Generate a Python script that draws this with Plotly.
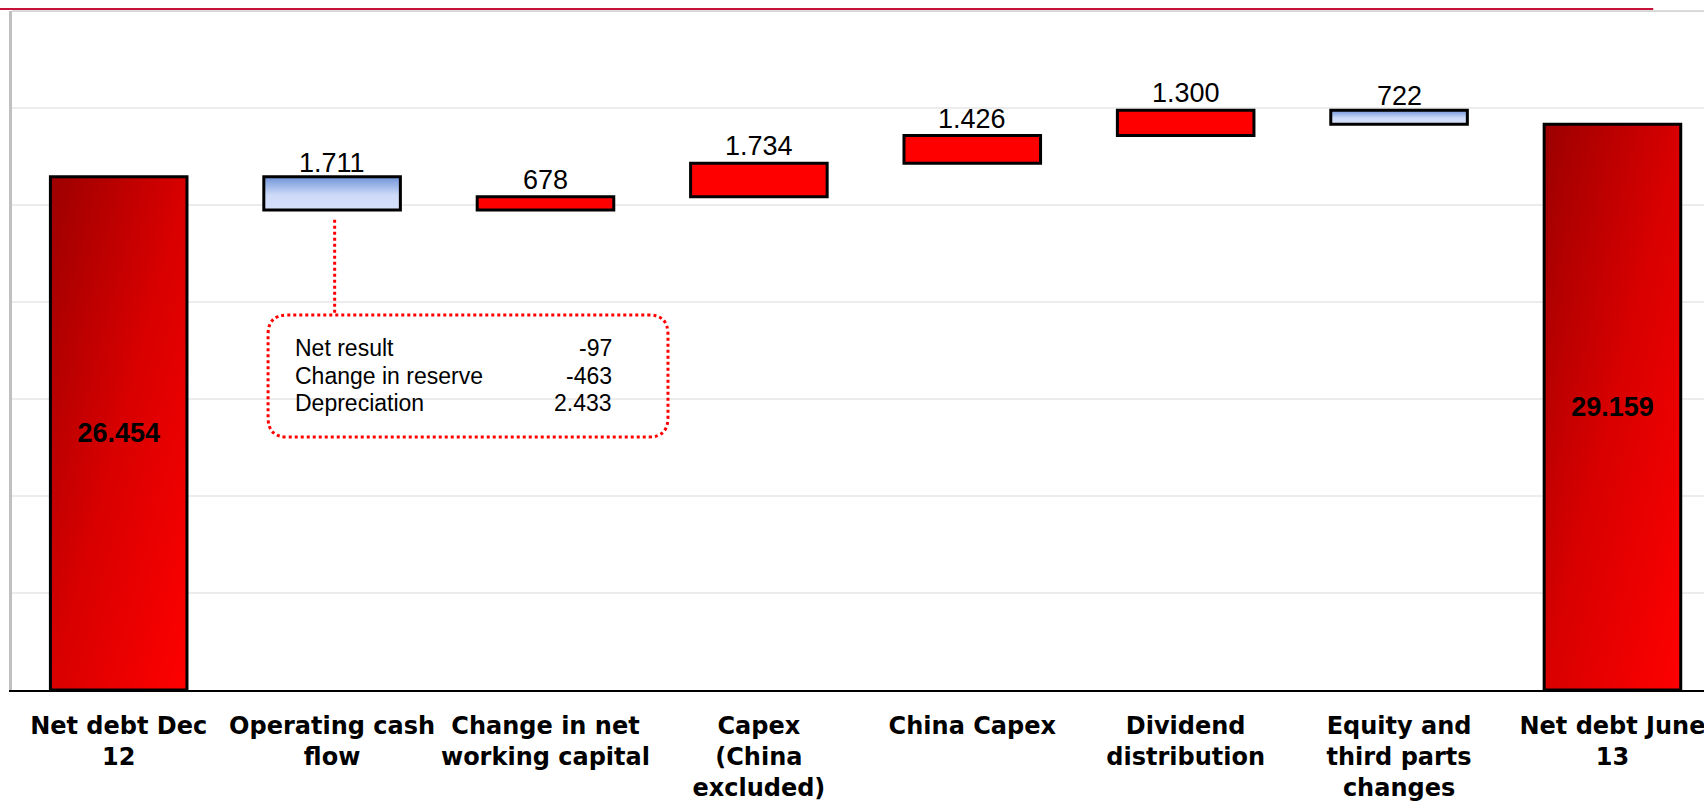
import base64
import plotly.graph_objects as go

# ---------------- data ----------------
categories = [
    "Net debt Dec<br>12",
    "Operating cash<br>flow",
    "Change in net<br>working capital",
    "Capex<br>(China<br>excluded)",
    "China Capex",
    "Dividend<br>distribution",
    "Equity and<br>third parts<br>changes",
    "Net debt June<br>13",
]
values = [26454, -1711, 678, 1734, 1426, 1300, -722, 29159]
measures = ["total", "relative", "relative", "relative", "relative", "relative", "relative", "total"]

breakdown_labels = ["Net result", "Change in reserve", "Depreciation"]
breakdown_values = [-97, -463, 2433]

y_ticks = [0, 5000, 10000, 15000, 20000, 25000, 30000, 35000]
y_range = [0, 35000]
x_range = [-0.5, 7.429]

FONT = "Liberation Sans, Arial"
TICK_FONT = "DejaVu Sans, Liberation Sans, Arial"


def fmt(n):
    return f"{n:,}".replace(",", ".")


# ---------------- waterfall geometry from data ----------------
bases, heights, kinds = [], [], []
running = 0
for v, m in zip(values, measures):
    if m == "total":
        bases.append(0)
        heights.append(v)
        running = v
        kinds.append("total")
    else:
        if v >= 0:
            bases.append(running)
            heights.append(v)
            kinds.append("up")
        else:
            bases.append(running + v)
            heights.append(-v)
            kinds.append("down")
        running += v

xs = list(range(len(categories)))
bar_w = 0.64

texts = ["<b>" + fmt(v) + "</b>" if k == "total" else "" for v, k in zip(values, kinds)]
positions = ["inside" if k == "total" else "none" for k in kinds]
fill_colors = ["#ff0000" if k == "up" else "rgba(0,0,0,0)" for k in kinds]


def svg_uri(svg):
    return "data:image/svg+xml;base64," + base64.b64encode(svg.encode()).decode()


red_grad = svg_uri(
    "<svg xmlns='http://www.w3.org/2000/svg' width='100' height='100' viewBox='0 0 100 100' "
    "preserveAspectRatio='none'><defs><linearGradient id='g' x1='0' y1='0' x2='1' y2='1'>"
    "<stop offset='0' stop-color='#9c0000'/><stop offset='0.5' stop-color='#d80000'/>"
    "<stop offset='1' stop-color='#ff0000'/></linearGradient></defs>"
    "<rect width='100' height='100' fill='url(#g)'/></svg>"
)
blue_grad = svg_uri(
    "<svg xmlns='http://www.w3.org/2000/svg' width='100' height='100' viewBox='0 0 100 100' "
    "preserveAspectRatio='none'><defs><linearGradient id='g' x1='0' y1='0' x2='0' y2='1'>"
    "<stop offset='0' stop-color='#6f94d8'/><stop offset='0.55' stop-color='#cddaf8'/>"
    "<stop offset='1' stop-color='#d6e1fc'/></linearGradient></defs>"
    "<rect width='100' height='100' fill='url(#g)'/></svg>"
)

images = []
for x, b, h, k in zip(xs, bases, heights, kinds):
    if k == "up":
        continue
    images.append(dict(
        source=red_grad if k == "total" else blue_grad,
        xref="x", yref="y", x=x - bar_w / 2, y=b + h,
        sizex=bar_w, sizey=h, sizing="stretch",
        xanchor="left", yanchor="top", layer="below",
    ))

fig = go.Figure()
fig.add_trace(go.Bar(
    x=xs, y=heights, base=bases, width=bar_w,
    marker=dict(color=fill_colors, line=dict(color="#000000", width=3)),
    text=texts, textposition=positions, insidetextanchor="middle",
    insidetextfont=dict(family=FONT, size=27, color="#000000"),
    constraintext="none", cliponaxis=False, showlegend=False, hoverinfo="skip",
))

# ---------------- gridlines (kept beneath the bar gradients) ----------------
shapes = []
for t in y_ticks[1:]:
    shapes.append(dict(type="line", xref="x", yref="y", x0=x_range[0], x1=x_range[1], y0=t, y1=t,
                       layer="below", line=dict(color="#d9d9d9", width=1)))

# ---------------- callout box for operating cash flow ----------------
ocf = 1
box_x0, box_x1 = ocf - 0.30, ocf + 1.574
box_y0, box_y1 = 13040, 19330
rx, ry = 0.09, 1000
box_path = (
    f"M {box_x0 + rx},{box_y1} L {box_x1 - rx},{box_y1} Q {box_x1},{box_y1} {box_x1},{box_y1 - ry} "
    f"L {box_x1},{box_y0 + ry} Q {box_x1},{box_y0} {box_x1 - rx},{box_y0} "
    f"L {box_x0 + rx},{box_y0} Q {box_x0},{box_y0} {box_x0},{box_y0 + ry} "
    f"L {box_x0},{box_y1 - ry} Q {box_x0},{box_y1} {box_x0 + rx},{box_y1} Z"
)
shapes += [
    dict(type="path", xref="x", yref="y", path=box_path,
         line=dict(color="#ff0000", width=3, dash="dot"), fillcolor="rgba(0,0,0,0)"),
    dict(type="line", xref="x", yref="y", x0=ocf + 0.012, x1=ocf + 0.012,
         y0=bases[ocf] - 500, y1=box_y1,
         line=dict(color="#ff0000", width=3, dash="dot")),
    # decorative top rule
    dict(type="line", xref="paper", yref="paper", x0=-0.01, x1=0.97, y0=1.003, y1=1.003,
         line=dict(color="#c8123a", width=2)),
    dict(type="line", xref="paper", yref="paper", x0=0, x1=1, y0=1, y1=1,
         line=dict(color="#d0d0d0", width=1.5)),
]

annotations = []
# value labels on the step bars
for x, b, h, v, k in zip(xs, bases, heights, values, kinds):
    if k == "total":
        continue
    annotations.append(dict(
        xref="x", yref="y", x=x, y=b + h, xanchor="center", yanchor="bottom",
        yshift=-3 if k == "down" else 0,
        showarrow=False, text=fmt(abs(v)),
        font=dict(family=FONT, size=27, color="#000000")))

# breakdown rows inside the callout
row_mid, row_step = 16200, 1410
for i, (lab, val) in enumerate(zip(breakdown_labels, breakdown_values)):
    yy = row_mid + row_step * (1 - i)
    annotations.append(dict(xref="x", yref="y", x=ocf - 0.183, y=yy, xanchor="left", yanchor="middle",
                            showarrow=False, text=lab, font=dict(family=FONT, size=23, color="#000000")))
    annotations.append(dict(xref="x", yref="y", x=ocf + 1.322, y=yy, xanchor="right", yanchor="middle",
                            showarrow=False, text=fmt(val), font=dict(family=FONT, size=23, color="#000000")))

fig.update_layout(
    width=1704, height=805,
    margin=dict(l=12, r=0, t=11, b=115, autoexpand=False),
    paper_bgcolor="white", plot_bgcolor="white",
    images=images, shapes=shapes, annotations=annotations,
    xaxis=dict(
        type="linear", range=x_range, tickvals=xs, ticktext=categories,
        showgrid=False, zeroline=False, showline=True, linecolor="#000000", linewidth=2,
        ticks="", ticklabeloverflow="allow", automargin=False, ticklabelstandoff=13,
        tickfont=dict(family=TICK_FONT, size=24, color="#000000", weight="bold"),
    ),
    yaxis=dict(
        range=y_range, tickvals=y_ticks, showticklabels=False, ticks="",
        showgrid=False, zeroline=False,
        showline=True, linecolor="#c0c0c0", linewidth=3, automargin=False,
    ),
)

fig.write_html("out.html")
